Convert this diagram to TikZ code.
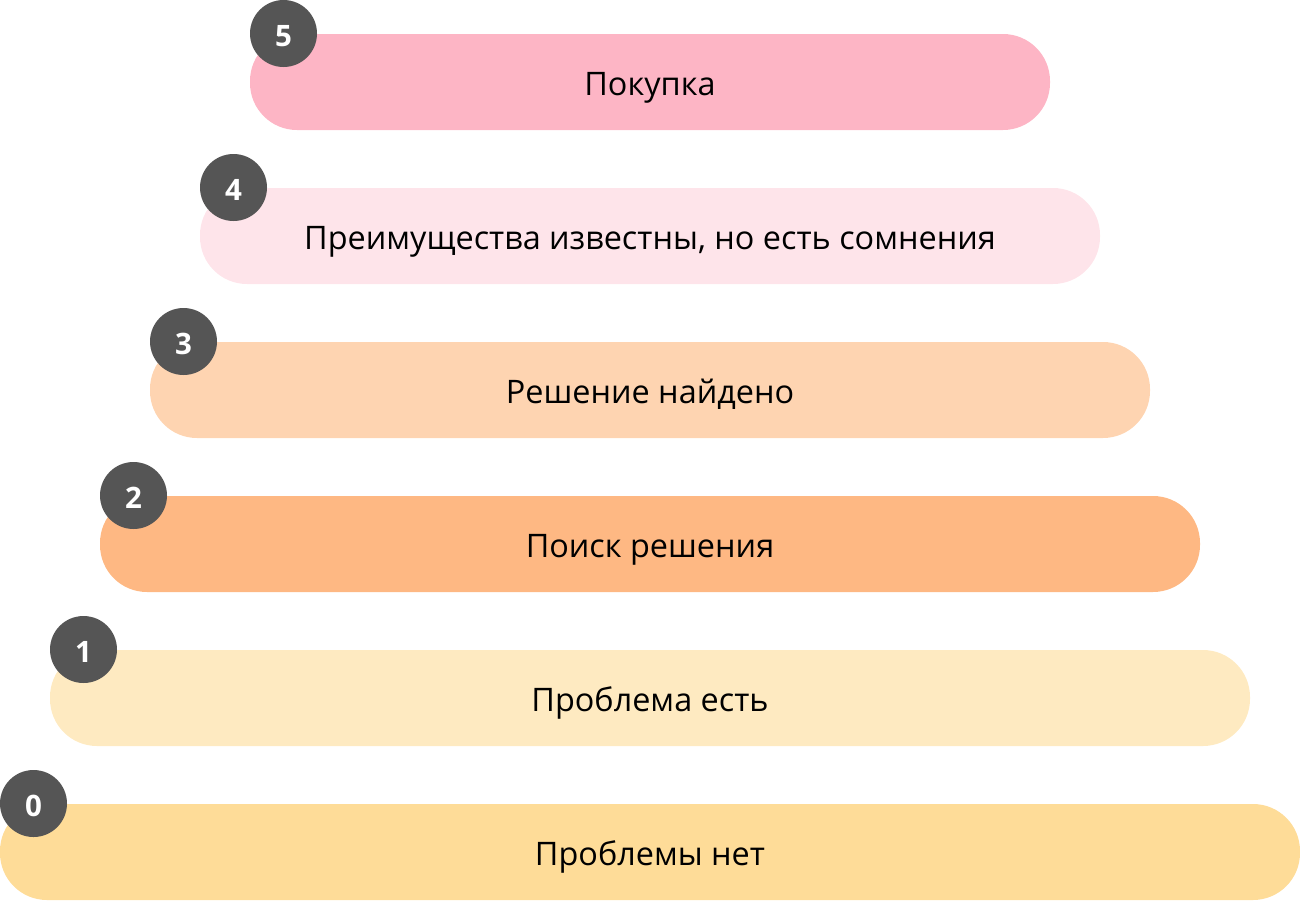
\documentclass[tikz,border=0pt]{standalone}
\usepackage{fontspec}
\setmainfont{Open Sans}
\definecolor{cfive}{HTML}{FDB5C5}
\definecolor{cfour}{HTML}{FEE4EA}
\definecolor{cthree}{HTML}{FED4B1}
\definecolor{ctwo}{HTML}{FEB883}
\definecolor{cone}{HTML}{FEEAC1}
\definecolor{czero}{HTML}{FEDC98}
\definecolor{numgray}{HTML}{555555}
\tikzset{
  bar/.style={fill=#1, draw=none, minimum height=96pt, rounded corners=47pt, inner sep=0pt, text height=26pt, text depth=0pt, font=\fontsize{32.4}{38}\selectfont, text=black},
  numdot/.style={circle, fill=numgray, draw=none, minimum size=67pt, inner sep=0pt, text height=25pt, text depth=0pt, text=white, font=\fontsize{29.5}{34}\selectfont\bfseries}
}
\begin{document}
\begin{tikzpicture}[x=1pt,y=-1pt]
\useasboundingbox (0,0) rectangle (1300,900);
\node[bar=czero, minimum width=1300pt] (b0) at (650,852) {Проблемы нет};
\node[bar=cone, minimum width=1200pt] (b1) at (650,698) {Проблема есть};
\node[bar=ctwo, minimum width=1100pt] (b2) at (650,544) {Поиск решения};
\node[bar=cthree, minimum width=1000pt] (b3) at (650,390) {Решение найдено};
\node[bar=cfour, minimum width=900pt] (b4) at (650,236) {Преимущества известны, но есть сомнения};
\node[bar=cfive, minimum width=800pt] (b5) at (650,82) {Покупка};
\node[numdot] (n0) at (33.5,803.5) {0};
\node[numdot] (n1) at (83.5,649.5) {1};
\node[numdot] (n2) at (133.5,495.5) {2};
\node[numdot] (n3) at (183.5,341.5) {3};
\node[numdot] (n4) at (233.5,187.5) {4};
\node[numdot] (n5) at (283.5,33.5) {5};
\end{tikzpicture}
\end{document}
